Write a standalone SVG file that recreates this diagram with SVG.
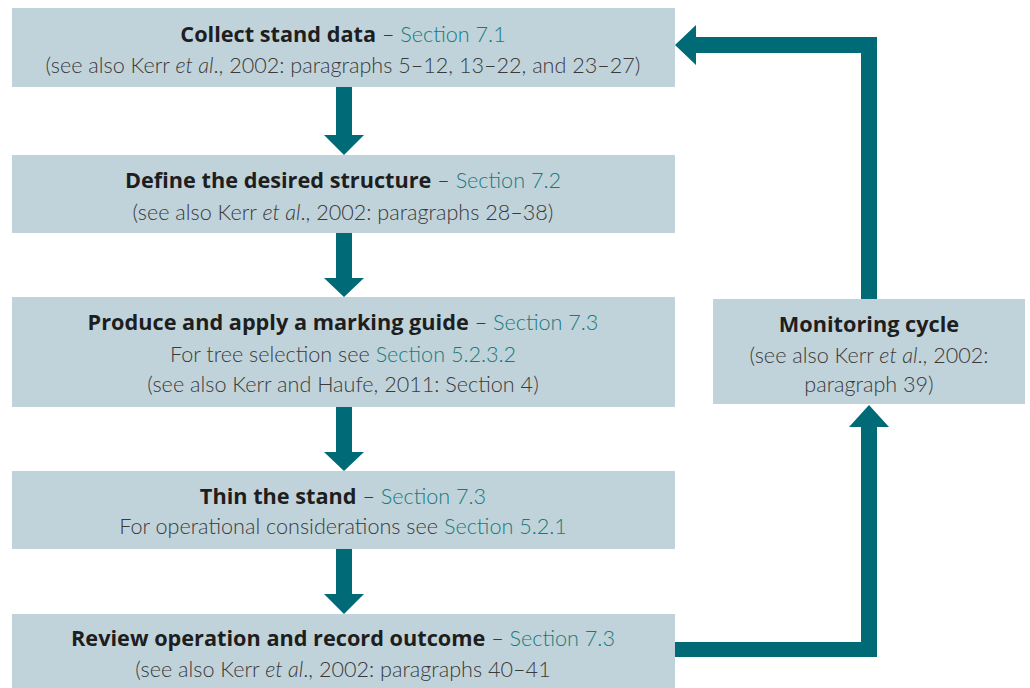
<svg xmlns="http://www.w3.org/2000/svg" width="1030" height="688" viewBox="0 0 1030 688">
  <style>
    .box { fill: #c1d3da; }
    .arrow { fill: #006a76; }
    text { font-family: "Lato", "Liberation Sans", sans-serif; font-size: 21.6px; text-anchor: middle; }
    .main { font-family: "Open Sans", "Liberation Sans", sans-serif; font-size: 21.7px; font-weight: bold; fill: #1e1e1e; }
    .sub { fill: #3a3a3a; font-weight: 300; }
    .ref { fill: #167b7e; font-weight: 300; }
    .dash { fill: #3a3a3a; font-weight: 300; }
    .it { font-style: italic; }
  </style>
  <rect width="1030" height="688" fill="#ffffff"/>

  <!-- Connectors -->
  <g id="connectors">
    <polygon class="arrow" points="336,87 352,87 352,135 364,135 344,155 324,135 336,135"/>
    <polygon class="arrow" points="336,233 352,233 352,278 364,278 344,297 324,278 336,278"/>
    <polygon class="arrow" points="336,407 352,407 352,452 364,452 344,471 324,452 336,452"/>
    <polygon class="arrow" points="336,549 352,549 352,594 364,594 344,614 324,594 336,594"/>
    <!-- review -> monitoring -->
    <polygon class="arrow" points="675,642 861,642 861,427 849,427 869,405 889,427 877,427 877,657 675,657"/>
    <!-- monitoring -> collect -->
    <polygon class="arrow" points="861,299 861,53 696,53 696,65 675,45 696,25 696,37 877,37 877,299"/>
  </g>

  <g id="collect">
    <rect class="box" x="12" y="8" width="663" height="79"/>
    <text x="343" y="42"><tspan class="main">Collect stand data</tspan><tspan class="dash"> – </tspan><tspan class="ref">Section 7.1</tspan></text>
    <text x="343" y="73" class="sub">(see also Kerr <tspan class="it">et al</tspan>., 2002: paragraphs 5–12, 13–22, and 23–27)</text>
  </g>

  <g id="define">
    <rect class="box" x="12" y="155" width="663" height="78"/>
    <text x="343" y="188"><tspan class="main">Define the desired structure</tspan><tspan class="dash"> – </tspan><tspan class="ref">Section 7.2</tspan></text>
    <text x="343" y="220" class="sub">(see also Kerr <tspan class="it">et al</tspan>., 2002: paragraphs 28–38)</text>
  </g>

  <g id="marking">
    <rect class="box" x="12" y="297" width="663" height="110"/>
    <text x="343" y="330"><tspan class="main">Produce and apply a marking guide</tspan><tspan class="dash"> – </tspan><tspan class="ref">Section 7.3</tspan></text>
    <text x="343" y="362" class="sub">For tree selection see <tspan class="ref">Section 5.2.3.2</tspan></text>
    <text x="343" y="392" class="sub">(see also Kerr and Haufe, 2011: Section 4)</text>
  </g>

  <g id="thin">
    <rect class="box" x="12" y="471" width="663" height="78"/>
    <text x="343" y="504"><tspan class="main">Thin the stand</tspan><tspan class="dash"> – </tspan><tspan class="ref">Section 7.3</tspan></text>
    <text x="343" y="534" class="sub">For operational considerations see <tspan class="ref">Section 5.2.1</tspan></text>
  </g>

  <g id="review">
    <rect class="box" x="12" y="614" width="663" height="74"/>
    <text x="343" y="646"><tspan class="main">Review operation and record outcome</tspan><tspan class="dash"> – </tspan><tspan class="ref">Section 7.3</tspan></text>
    <text x="343" y="677" class="sub">(see also Kerr <tspan class="it">et al</tspan>., 2002: paragraphs 40–41</text>
  </g>

  <g id="monitoring">
    <rect class="box" x="713" y="299" width="312" height="105"/>
    <text x="869" y="332" class="main">Monitoring cycle</text>
    <text x="869" y="363" class="sub">(see also Kerr <tspan class="it">et al</tspan>., 2002:</text>
    <text x="869" y="392" class="sub">paragraph 39)</text>
  </g>
</svg>
